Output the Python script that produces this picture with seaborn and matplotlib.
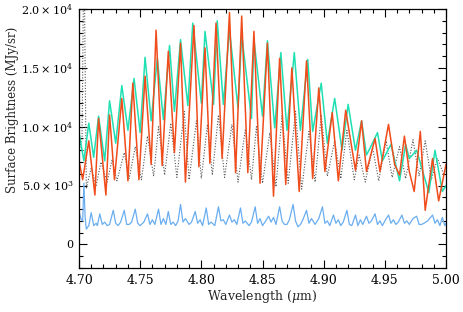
import matplotlib
matplotlib.use('Agg')
import matplotlib.pyplot as plt
from matplotlib.ticker import MultipleLocator, FixedLocator, FixedFormatter
import numpy as np
import pandas as pd
import seaborn as sns

# orange spectrum (peaks / troughs)
orange_wl = [4.700, 4.703, 4.708, 4.713, 4.716, 4.722, 4.725, 4.729, 4.735, 4.740,
             4.744, 4.749, 4.754, 4.759, 4.763, 4.768, 4.773, 4.778, 4.783, 4.787,
             4.794, 4.798, 4.803, 4.807, 4.812, 4.817, 4.823, 4.828, 4.833, 4.838,
             4.843, 4.848, 4.854, 4.859, 4.864, 4.869, 4.874, 4.880, 4.886, 4.891,
             4.896, 4.901, 4.907, 4.912, 4.918, 4.926, 4.931, 4.935, 4.942, 4.946,
             4.953, 4.958, 4.962, 4.966, 4.970, 4.974, 4.979, 4.983, 4.989, 4.994,
             5.000]
orange_val = [7100, 5500, 8800, 4200, 10700, 4200, 11000, 5500, 12400, 5400,
              13700, 5500, 14300, 6800, 18200, 6700, 16400, 7800, 17100, 5300,
              18600, 6600, 16700, 6900, 18800, 7300, 19700, 6100, 19400, 6100,
              18100, 5200, 17100, 4100, 15800, 5100, 15000, 4500, 15600, 5600,
              13300, 6200, 11200, 5400, 11400, 6300, 10500, 6200, 9000, 6200,
              10200, 6800, 5900, 9200, 6200, 4500, 9600, 2900, 7300, 3700,
              6800]

# turquoise spectrum
teal_wl = [4.700, 4.704, 4.708, 4.712, 4.716, 4.721, 4.725, 4.730, 4.735, 4.740,
           4.745, 4.750, 4.754, 4.759, 4.764, 4.769, 4.774, 4.778, 4.783, 4.789,
           4.793, 4.800, 4.803, 4.810, 4.813, 4.818, 4.823, 4.830, 4.833, 4.841,
           4.843, 4.850, 4.854, 4.860, 4.865, 4.870, 4.876, 4.881, 4.887, 4.891,
           4.898, 4.903, 4.909, 4.915, 4.920, 4.926, 4.931, 4.935, 4.938, 4.944,
           4.948, 4.955, 4.962, 4.967, 4.970, 4.976, 4.986, 4.991, 4.997, 5.000]
teal_val = [9500, 7100, 10300, 7400, 10900, 7100, 12200, 8600, 13500, 9700,
            14100, 9500, 15900, 10500, 15800, 10600, 16900, 11300, 17400, 11800,
            18800, 12000, 18100, 11900, 19000, 11900, 18200, 11600, 17800, 10700,
            17400, 10900, 17300, 9900, 16300, 9700, 16300, 9700, 15700, 9600,
            13700, 8600, 12400, 8000, 11900, 8000, 10500, 7600, 8200, 9500,
            7100, 8500, 5400, 8500, 7300, 8000, 4400, 8000, 4500, 5000]

# dotted grey spectrum
grey_wl = [4.700, 4.7025, 4.704, 4.706, 4.710, 4.714, 4.718, 4.723, 4.727, 4.731,
           4.737, 4.741, 4.746, 4.751, 4.756, 4.761, 4.765, 4.770, 4.775, 4.780,
           4.786, 4.790, 4.796, 4.800, 4.805, 4.809, 4.814, 4.819, 4.825, 4.830,
           4.836, 4.841, 4.845, 4.850, 4.856, 4.861, 4.866, 4.871, 4.877, 4.882,
           4.888, 4.893, 4.898, 4.903, 4.909, 4.914, 4.919, 4.925, 4.929, 4.934,
           4.940, 4.945, 4.951, 4.956, 4.962, 4.967, 4.973, 4.978, 4.983, 4.988,
           4.993, 4.998, 5.000]
grey_val = [8000, 9000, 26000, 4800, 6500, 5000, 7000, 5300, 7200, 5400,
            7800, 5600, 8300, 5500, 9200, 5800, 10000, 5900, 10300, 5700,
            11300, 5500, 10500, 5600, 10200, 5900, 11000, 5700, 10200, 5300,
            9800, 5500, 10000, 5200, 9500, 4900, 11000, 5200, 11300, 4700,
            9600, 5300, 11000, 5800, 8800, 5600, 9700, 5500, 7600, 5300,
            8200, 5400, 8800, 5700, 8300, 5600, 8900, 5800, 8800, 5500,
            7300, 6000, 6300]

# light blue spectrum
blue_wl = [4.700, 4.7015, 4.703, 4.704, 4.705, 4.706, 4.708, 4.710, 4.712, 4.714,
           4.715, 4.717, 4.719, 4.721, 4.723, 4.725, 4.728, 4.730, 4.732, 4.734,
           4.737, 4.739, 4.741, 4.743, 4.746, 4.748, 4.750, 4.753, 4.756, 4.758,
           4.760, 4.762, 4.765, 4.767, 4.769, 4.771, 4.773, 4.775, 4.777, 4.779,
           4.781, 4.783, 4.785, 4.787, 4.790, 4.792, 4.795, 4.797, 4.799, 4.801,
           4.804, 4.806, 4.808, 4.811, 4.814, 4.816, 4.818, 4.820, 4.823, 4.825,
           4.827, 4.829, 4.832, 4.834, 4.836, 4.839, 4.841, 4.844, 4.846, 4.848,
           4.850, 4.852, 4.855, 4.857, 4.859, 4.861, 4.864, 4.866, 4.868, 4.870,
           4.872, 4.875, 4.877, 4.879, 4.881, 4.883, 4.886, 4.888, 4.890, 4.893,
           4.896, 4.899, 4.901, 4.903, 4.905, 4.908, 4.910, 4.912, 4.914, 4.916,
           4.919, 4.921, 4.923, 4.926, 4.928, 4.930, 4.932, 4.935, 4.937, 4.939,
           4.942, 4.944, 4.946, 4.948, 4.950, 4.953, 4.955, 4.957, 4.959, 4.961,
           4.964, 4.966, 4.968, 4.970, 4.973, 4.976, 4.978, 4.980, 4.982, 4.985,
           4.989, 4.991, 4.993, 4.995, 4.997, 4.999, 5.000]
blue_val = [2800, 2200, 2000, 5200, 2300, 1300, 1600, 2700, 1600, 1800,
            1600, 2600, 1700, 1900, 1600, 1700, 2900, 1800, 1600, 1900,
            2900, 1700, 1700, 1900, 3000, 1800, 1600, 1900, 2600, 1700,
            2100, 1700, 3000, 1700, 2200, 1700, 2800, 1700, 1900, 1600,
            2000, 3400, 1900, 2200, 1700, 1900, 2800, 1800, 2100, 1600,
            3100, 1700, 1900, 1600, 3200, 2000, 2100, 1700, 2500, 1900,
            2100, 1700, 3100, 1800, 2000, 1600, 1900, 3200, 1800, 2200,
            1600, 1900, 2400, 1900, 2300, 1700, 3200, 2000, 1700, 1700,
            2100, 3400, 2000, 1500, 1700, 2100, 2900, 1800, 2200, 1700,
            2200, 3200, 1800, 2000, 1600, 2500, 1800, 2100, 1600, 1900,
            2900, 1700, 1600, 2500, 1600, 2100, 1700, 2400, 1800, 2000,
            2600, 1700, 2000, 1600, 2000, 2500, 1800, 2100, 1700, 1900,
            2500, 1800, 2000, 1700, 2200, 2400, 1700, 1700, 1800, 2000,
            2500, 1800, 2100, 1600, 2300, 1600, 1800]

yticks = [0, 5000, 10000, 15000, 20000]
ytick_labels = ['0', r'$5.0\times10^{3}$', r'$1.0\times10^{4}$',
                r'$1.5\times10^{4}$', r'$2.0\times10^{4}$']

sns.set_theme(style='ticks')
plt.rcParams['font.family'] = ['DejaVu Serif']
plt.rcParams['mathtext.fontset'] = 'dejavuserif'

fig = plt.figure(figsize=(4.64, 3.12), dpi=100)
ax = fig.add_axes([79 / 464, 1 - 268 / 312, (446 - 79) / 464, (268 - 9) / 312])

sns.lineplot(x=grey_wl, y=grey_val, ax=ax, color='#555555', lw=0.8,
             linestyle=(0, (1, 1.5)), estimator=None, sort=False)
sns.lineplot(x=blue_wl, y=blue_val, ax=ax, color='#6aaef0', lw=0.9,
             estimator=None, sort=False)
sns.lineplot(x=teal_wl, y=teal_val, ax=ax, color='#1fe0b2', lw=1.1,
             estimator=None, sort=False)
sns.lineplot(x=orange_wl, y=orange_val, ax=ax, color='#f04c1c', lw=1.1,
             estimator=None, sort=False)

ax.set_xlim(4.70, 5.00)
ax.set_ylim(-2000, 20000)
ax.xaxis.set_major_locator(MultipleLocator(0.05))
ax.xaxis.set_minor_locator(MultipleLocator(0.01))
ax.xaxis.set_major_formatter(plt.FuncFormatter(lambda v, p: f'{v:.2f}'))
ax.yaxis.set_major_locator(FixedLocator(yticks))
ax.yaxis.set_major_formatter(FixedFormatter(ytick_labels))
ax.yaxis.set_minor_locator(MultipleLocator(1000))
ax.tick_params(which='both', direction='in', top=True, right=True,
               width=0.8, colors='black')
ax.tick_params(axis='x', labelsize=9, pad=4)
ax.tick_params(axis='y', labelsize=8, pad=4)
ax.tick_params(which='major', length=6)
ax.tick_params(which='minor', length=3)
for s in ax.spines.values():
    s.set_linewidth(0.9)
    s.set_color('black')

ax.set_xlabel(r'Wavelength ($\mu$m)', fontsize=9, labelpad=1)
ax.set_ylabel('Surface Brightness (MJy/sr)', fontsize=8.5)
ax.yaxis.set_label_coords(-0.163, 0.61)

fig.savefig('out.png', dpi=100)
